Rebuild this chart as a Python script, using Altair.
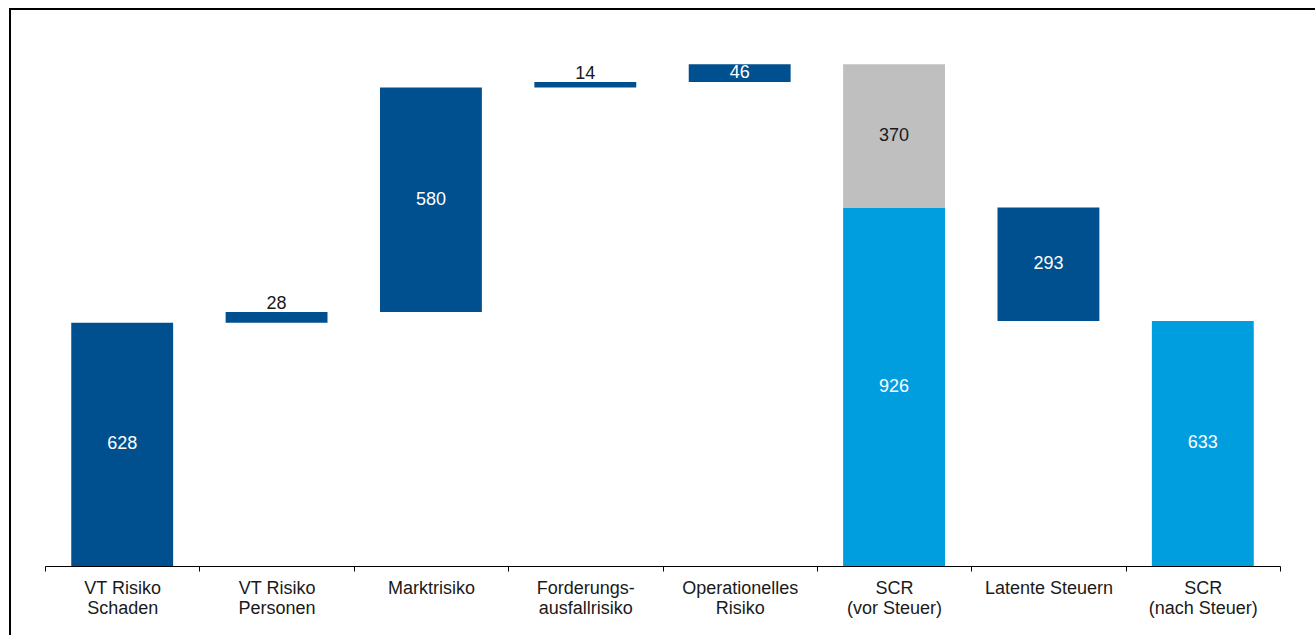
import altair as alt
import pandas as pd

categories = ["VT Risiko|Schaden", "VT Risiko|Personen", "Marktrisiko",
              "Forderungs-|ausfallrisiko", "Operationelles|Risiko",
              "SCR|(vor Steuer)", "Latente Steuern", "SCR|(nach Steuer)"]

seg_category = [0, 1, 2, 3, 4, 5, 5, 6, 7]
seg_start = [0, 628, 656, 1236, 1250, 0, 926, 633, 0]
seg_end = [628, 656, 1236, 1250, 1296, 926, 1296, 926, 633]
seg_value = [628, 28, 580, 14, 46, 926, 370, 293, 633]
seg_kind = ["dark", "dark", "dark", "dark", "dark", "light", "gray", "dark", "light"]
label_pos = ["mid", "above", "mid", "above", "mid", "mid", "mid", "mid", "mid"]

fill_map = {"dark": "#00508F", "light": "#009DDF", "gray": "#BFBFBF"}
text_map = {"dark": "#FFFFFF", "light": "#FFFFFF", "gray": "#1A1A1A"}

df = pd.DataFrame({
    "cat": [categories[i] for i in seg_category],
    "start": seg_start,
    "end": seg_end,
    "value": seg_value,
    "fill": [fill_map[k] for k in seg_kind],
    "tcolor": [text_map[k] if p == "mid" else "#1A1A1A" for k, p in zip(seg_kind, label_pos)],
    "pos": label_pos,
})
df["mid"] = (df["start"] + df["end"]) / 2

FONT = "Liberation Sans"
FS = 18

x_enc = alt.X("cat:N", sort=categories,
              scale=alt.Scale(paddingInner=0, paddingOuter=0),
              axis=alt.Axis(title=None, labelAngle=0, labelExpr="split(datum.label, '|')",
                            labelFont=FONT, labelFontSize=FS, labelColor="#1A1A1A",
                            labelLineHeight=20, labelPadding=8,
                            domainColor="#000000", domainWidth=1,
                            tickColor="#000000", tickSize=5, tickBand="extent",
                            grid=False))
y_scale = alt.Scale(domain=[0, 1441], nice=False, zero=True)

base = alt.Chart(df)

bars = base.mark_bar(cornerRadius=0, width=alt.RelativeBandSize(0.66)).encode(
    x=x_enc,
    y=alt.Y("start:Q", scale=y_scale, axis=None),
    y2="end:Q",
    color=alt.Color("fill:N", scale=None),
)

mid_text = base.transform_filter(alt.datum.pos == "mid").mark_text(
    font=FONT, fontSize=FS, baseline="middle", align="center"
).encode(
    x=alt.X("cat:N", sort=categories),
    y=alt.Y("mid:Q", scale=y_scale),
    text="value:Q",
    color=alt.Color("tcolor:N", scale=None),
)

above_text = base.transform_filter(alt.datum.pos == "above").mark_text(
    font=FONT, fontSize=FS, baseline="alphabetic", align="center", dy=-3
).encode(
    x=alt.X("cat:N", sort=categories),
    y=alt.Y("end:Q", scale=y_scale),
    text="value:Q",
    color=alt.Color("tcolor:N", scale=None),
)

frame = alt.Chart(pd.DataFrame({"a": [0]})).mark_rect(
    fillOpacity=0, stroke="#000000", strokeWidth=2
).encode(
    x=alt.value(-35), x2=alt.value(1320),
    y=alt.value(1), y2=alt.value(700),
)

chart = alt.layer(bars, mid_text, above_text, frame).properties(
    width=1235, height=558,
    autosize=alt.AutoSizeParams(type="none"),
    padding={"left": 45, "top": 8, "right": 35, "bottom": 69},
    background="#FFFFFF",
).configure_view(stroke=None)

chart.save("out.html", embed_options={"renderer": "svg", "actions": False})
